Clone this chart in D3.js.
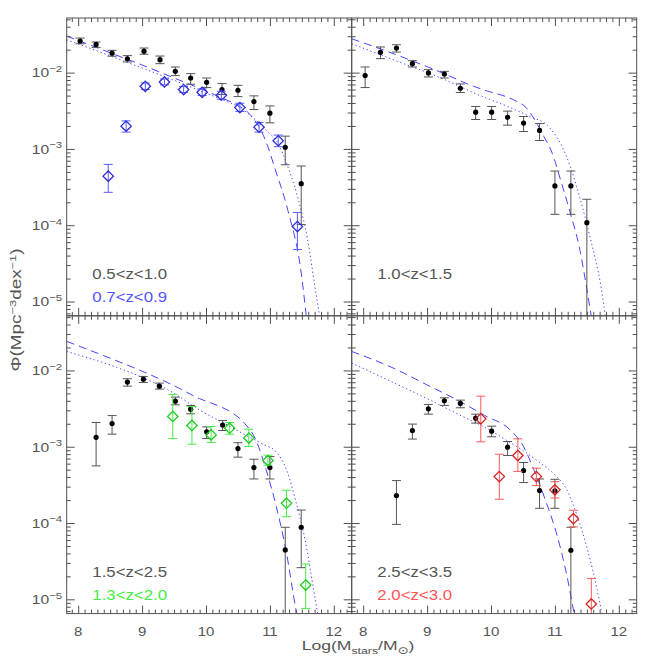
<!DOCTYPE html>
<html><head><meta charset="utf-8">
<script src="https://cdn.jsdelivr.net/npm/d3@7/dist/d3.min.js"></script>
<style>html,body{margin:0;padding:0;background:#fff}svg{display:block}</style>
</head><body>
<svg id="chart" width="668" height="668"></svg>
<script>
// ---------------- DATA ----------------
const xTickValues = [8, 9, 10, 11, 12];
const xTickLabels = ["8", "9", "10", "11", "12"];
const yTickValues = [1e-5, 1e-4, 1e-3, 1e-2];
const yTickExponents = ["−5", "−4", "−3", "−2"];
const labelsBlack = ["0.5<z<1.0", "1.0<z<1.5", "1.5<z<2.5", "2.5<z<3.5"];
const labelsColor = ["0.7<z<0.9", null, "1.3<z<2.0", "2.0<z<3.0"];

// Panel 1 (0.5<z<1.0) black points
const p1Mass = [8.03,8.28,8.53,8.77,9.03,9.28,9.52,9.76,10.01,10.25,10.50,10.75,11.00,11.24,11.49];
const p1Phi  = [0.0259,0.0234,0.0180,0.0152,0.0191,0.0148,0.0104,0.0085,0.00747,0.0060,0.00588,0.00417,0.00294,0.00105,0.00035];
const p1Hi   = [0.0284,0.0252,0.0196,0.0167,0.0210,0.0165,0.01186,0.0097,0.0085,0.00718,0.00682,0.00496,0.00366,0.00147,0.000597];
const p1Lo   = [0.0239,0.0214,0.0164,0.0138,0.0174,0.0131,0.00914,0.00704,0.00637,0.00516,0.00485,0.00328,0.0022,0.00062,0.000102];
// Panel 1 blue diamonds (0.7<z<0.9)
const p1bMass = [8.47,8.75,9.05,9.35,9.65,9.94,10.24,10.53,10.83,11.13,11.43];
const p1bPhi  = [0.00044,0.00199,0.00662,0.00755,0.0060,0.00553,0.00506,0.00348,0.00193,0.00128,0.000096];
const p1bHi   = [0.000627,0.00233,0.00733,0.00826,0.00656,0.00612,0.0057,0.00397,0.00222,0.00152,0.000147];
const p1bLo   = [0.00027,0.00166,0.0060,0.0069,0.00548,0.00501,0.00448,0.00309,0.00166,0.00107,0.000048];
// Panel 1 model curves
const p1DashMass = [7.82,8.5,9.0,9.5,10.0,10.3,10.5,10.65,10.76,10.86,10.97,11.07,11.28,11.49,11.57];
const p1DashPhi  = [0.0302,0.0182,0.01259,0.00851,0.00575,0.00447,0.00372,0.00305,0.0024,0.00176,0.00106,0.000583,0.000158,0.0000236,0.0000063];
const p1DotMass  = [7.82,8.5,9.0,9.5,9.94,10.3,10.53,10.75,10.94,11.13,11.30,11.46,11.59,11.72,11.79];
const p1DotPhi   = [0.0270,0.0166,0.01148,0.00794,0.00562,0.00427,0.00348,0.00251,0.00176,0.00117,0.000528,0.000195,0.0000646,0.0000129,0.0000056];

// Panel 2 (1.0<z<1.5) black points
const p2Mass = [8.03,8.27,8.52,8.77,9.02,9.27,9.52,9.76,10.01,10.26,10.51,10.76,11.00,11.25,11.50];
const p2Phi  = [0.00914,0.01845,0.0210,0.01312,0.0099,0.0096,0.00624,0.00303,0.00303,0.0026,0.00218,0.00175,0.000327,0.000327,0.000108];
const p2Hi   = [0.01186,0.0217,0.0232,0.01435,0.01094,0.0104,0.00711,0.0036,0.0036,0.00313,0.00266,0.00215,0.000513,0.000513,0.000219];
const p2Lo   = [0.00637,0.01525,0.0186,0.01186,0.00878,0.0085,0.00548,0.00243,0.00243,0.00205,0.00169,0.00129,0.000139,0.000139,0.0000001];
const p2DashMass = [7.82,8.5,9.2,9.73,9.94,10.25,10.41,10.55,10.62,10.83,10.96,11.09,11.24,11.38,11.51,11.58];
const p2DashPhi  = [0.0278,0.01738,0.01023,0.00661,0.00575,0.00479,0.00417,0.00347,0.00291,0.00144,0.000871,0.000389,0.000145,0.0000525,0.0000129,0.0000056];
const p2DotMass  = [7.82,8.5,9.2,9.83,10.25,10.62,10.88,11.09,11.24,11.40,11.56,11.72,11.80];
const p2DotPhi   = [0.02393,0.01445,0.00861,0.00501,0.00363,0.00263,0.00204,0.00117,0.000589,0.000214,0.0000646,0.0000158,0.0000056];

// Panel 3 (1.5<z<2.5) black points
const p3Mass = [8.28,8.53,8.77,9.02,9.27,9.52,9.76,10.01,10.26,10.50,10.75,11.00,11.24,11.49];
const p3Phi  = [0.00133,0.00201,0.00703,0.00769,0.00622,0.00396,0.00311,0.00157,0.00192,0.000946,0.000533,0.000533,0.0000444,0.000088];
const p3Hi   = [0.00208,0.00256,0.00778,0.00834,0.00682,0.00447,0.00347,0.00182,0.00221,0.00113,0.000686,0.000743,0.000088,0.000148];
const p3Lo   = [0.000561,0.00146,0.00622,0.00696,0.00569,0.00354,0.0027,0.00128,0.00163,0.00073,0.000378,0.000378,0.0000001,0.000026];
// Panel 3 green diamonds (1.3<z<2.0)
const p3gMass = [9.48,9.78,10.08,10.37,10.67,10.97,11.26,11.56];
const p3gPhi  = [0.00249,0.0019,0.00143,0.00175,0.0013,0.000659,0.000182,0.0000154];
const p3gHi   = [0.00484,0.00337,0.00184,0.00208,0.0017,0.000775,0.000269,0.000029];
const p3gLo   = [0.00128,0.00108,0.00114,0.00146,0.00101,0.000573,0.000121,0.0000076];
const p3DashMass = [7.82,8.5,9.0,9.5,9.9,10.21,10.42,10.6,10.78,10.94,11.10,11.25,11.41,11.45];
const p3DashPhi  = [0.02404,0.01445,0.00977,0.00631,0.00427,0.00339,0.00275,0.00204,0.00123,0.000501,0.000164,0.0000447,0.00000724,0.000005];
const p3DotMass  = [7.82,8.5,9.0,9.5,9.9,10.3,10.6,10.9,11.1,11.25,11.4,11.55,11.7,11.77];
const p3DotPhi   = [0.01774,0.01175,0.00813,0.00501,0.00302,0.002,0.00145,0.00107,0.000851,0.000525,0.0002,0.0000603,0.0000112,0.000005];

// Panel 4 (2.5<z<3.5) black points
const p4Mass = [8.52,8.77,9.02,9.27,9.52,9.76,10.01,10.26,10.51,10.76,11.00,11.25];
const p4Phi  = [0.000229,0.00163,0.00314,0.0040,0.00369,0.00237,0.0016,0.000986,0.000488,0.000266,0.000264,0.000044];
const p4Hi   = [0.00036,0.00198,0.00358,0.00438,0.00408,0.00267,0.00186,0.00117,0.000621,0.000378,0.000374,0.000088];
const p4Lo   = [0.000096,0.00126,0.00267,0.00348,0.00324,0.00204,0.00135,0.000767,0.000339,0.000156,0.000156,0.0000001];
// Panel 4 red diamonds (2.0<z<3.0)
const p4rMass = [9.84,10.13,10.42,10.71,11.00,11.29,11.57];
const p4rPhi  = [0.00232,0.000406,0.000767,0.000406,0.000272,0.000114,0.0000087];
const p4rHi   = [0.0046,0.000798,0.00127,0.000523,0.000349,0.000147,0.0000188];
const p4rLo   = [0.00116,0.000205,0.000473,0.00031,0.000213,0.000089,0.0000001];
const p4DashMass = [7.82,8.5,9.0,9.5,9.9,10.3,10.51,10.67,10.83,11.04,11.19,11.30,11.33];
const p4DashPhi  = [0.01774,0.01047,0.00646,0.00398,0.00257,0.00166,0.001,0.000501,0.000224,0.0000661,0.00002,0.0000066,0.000005];
const p4DotMass  = [7.82,8.5,9.0,9.5,10.0,10.25,10.5,10.75,11.0,11.19,11.35,11.51,11.66,11.76];
const p4DotPhi   = [0.01247,0.00676,0.00427,0.00263,0.00162,0.0012,0.000891,0.000631,0.000427,0.000269,0.000123,0.0000447,0.0000135,0.000005];

// ---------------- DRAWING ----------------
const FONT = "'Liberation Sans','DejaVu Sans',Arial,sans-serif";
const svg = d3.select("#chart");
const xDomain = [7.82, 12.28];
const yDomain = [6.5e-6, 0.052];
const cols = [[66.7, 351.7], [351.7, 636.7]];
const rows = [[18, 315.8], [315.8, 613.6]];
const AX = "#505050";
const TXT = "#555555";

const panels = [
  {c:0, r:0, black:[p1Mass,p1Phi,p1Lo,p1Hi], extra:[p1bMass,p1bPhi,p1bLo,p1bHi], ec:"#2e2ed6", eb:"#5a5aff", lc:"#5555ff",
   dash:[p1DashMass,p1DashPhi], dot:[p1DotMass,p1DotPhi]},
  {c:1, r:0, black:[p2Mass,p2Phi,p2Lo,p2Hi], extra:null,
   dash:[p2DashMass,p2DashPhi], dot:[p2DotMass,p2DotPhi]},
  {c:0, r:1, black:[p3Mass,p3Phi,p3Lo,p3Hi], extra:[p3gMass,p3gPhi,p3gLo,p3gHi], ec:"#22cc22", eb:"#44ee44", lc:"#44ee44",
   dash:[p3DashMass,p3DashPhi], dot:[p3DotMass,p3DotPhi]},
  {c:1, r:1, black:[p4Mass,p4Phi,p4Lo,p4Hi], extra:[p4rMass,p4rPhi,p4rLo,p4rHi], ec:"#d42424", eb:"#ff5a5a", lc:"#ff5555",
   dash:[p4DashMass,p4DashPhi], dot:[p4DotMass,p4DotPhi]}
];

const minorX = d3.range(79, 123).map(v => v / 10).filter(v => Math.abs(v - Math.round(v)) > 1e-6);
const minorY = [];
for (let e = -6; e <= -1; e++) for (let k = 2; k <= 9; k++) {
  const v = k * Math.pow(10, e);
  if (v > yDomain[0] && v < yDomain[1]) minorY.push(v);
}

function stretchedText(parent, x, y, sx, opts) {
  const g = parent.append("g").attr("transform", `translate(${x},${y}) scale(${sx},1)`);
  const t = g.append("text").attr("font-family", FONT).attr("fill", opts.fill || TXT)
    .attr("font-size", opts.size || 14).attr("text-anchor", opts.anchor || "start");
  return t;
}

panels.forEach((p, i) => {
  const [x0, x1] = cols[p.c], [y0, y1] = rows[p.r];
  const x = d3.scaleLinear().domain(xDomain).range([x0, x1]);
  const y = d3.scaleLog().domain(yDomain).range([y1, y0]);
  const g = svg.append("g");
  const clipId = "clip" + i;
  svg.append("defs").append("clipPath").attr("id", clipId)
    .append("rect").attr("x", x0).attr("y", y0).attr("width", x1 - x0).attr("height", y1 - y0);
  const inner = g.append("g").attr("clip-path", `url(#${clipId})`);

  const line = d3.line().x(d => x(d[0])).y(d => y(d[1])).curve(d3.curveMonotoneX);
  inner.append("path").datum(d3.zip(p.dash[0], p.dash[1])).attr("d", line)
    .attr("fill", "none").attr("stroke", "#4646ff").attr("stroke-width", 1).attr("stroke-dasharray", "8,5");
  inner.append("path").datum(d3.zip(p.dot[0], p.dot[1])).attr("d", line)
    .attr("fill", "none").attr("stroke", "#4646ff").attr("stroke-width", 1).attr("stroke-dasharray", "1.3,2.7");

  function errorBars(set, color) {
    const data = d3.zip(set[0], set[1], set[2], set[3]);
    const eg = inner.append("g").attr("stroke", color).attr("stroke-width", 1).attr("fill", "none");
    data.forEach(d => {
      const cx = x(d[0]);
      eg.append("line").attr("x1", cx).attr("x2", cx).attr("y1", y(d[2])).attr("y2", y(d[3]));
      eg.append("line").attr("x1", cx - 4.5).attr("x2", cx + 4.5).attr("y1", y(d[3])).attr("y2", y(d[3]));
      eg.append("line").attr("x1", cx - 4.5).attr("x2", cx + 4.5).attr("y1", y(d[2])).attr("y2", y(d[2]));
    });
    return data;
  }

  const bd = errorBars(p.black, "#555555");
  inner.append("g").selectAll("circle").data(bd).join("circle")
    .attr("cx", d => x(d[0])).attr("cy", d => y(d[1])).attr("r", 2.6).attr("fill", "#000");

  if (p.extra) {
    const ed = errorBars(p.extra, p.eb);
    inner.append("g").selectAll("path").data(ed).join("path")
      .attr("transform", d => `translate(${x(d[0])},${y(d[1])})`)
      .attr("d", "M0,-5.2L5.2,0L0,5.2L-5.2,0Z")
      .attr("fill", "none").attr("stroke", p.ec).attr("stroke-width", 1.3);
  }

  // axes ticks (inward)
  const styleAxis = a => { a.select(".domain").remove(); a.selectAll(".tick line").attr("stroke", AX); };
  g.append("g").attr("transform", `translate(0,${y1})`).call(d3.axisBottom(x).tickValues(minorX).tickSize(-4).tickFormat("")).call(styleAxis);
  g.append("g").attr("transform", `translate(0,${y1})`).call(d3.axisBottom(x).tickValues(xTickValues).tickSize(-8).tickFormat("")).call(styleAxis);
  g.append("g").attr("transform", `translate(0,${y0})`).call(d3.axisTop(x).tickValues(minorX).tickSize(-4).tickFormat("")).call(styleAxis);
  g.append("g").attr("transform", `translate(0,${y0})`).call(d3.axisTop(x).tickValues(xTickValues).tickSize(-8).tickFormat("")).call(styleAxis);
  g.append("g").attr("transform", `translate(${x0},0)`).call(d3.axisLeft(y).tickValues(minorY).tickSize(-4).tickFormat("")).call(styleAxis);
  g.append("g").attr("transform", `translate(${x0},0)`).call(d3.axisLeft(y).tickValues(yTickValues).tickSize(-8).tickFormat("")).call(styleAxis);
  g.append("g").attr("transform", `translate(${x1},0)`).call(d3.axisRight(y).tickValues(minorY).tickSize(-4).tickFormat("")).call(styleAxis);
  g.append("g").attr("transform", `translate(${x1},0)`).call(d3.axisRight(y).tickValues(yTickValues).tickSize(-8).tickFormat("")).call(styleAxis);

  g.append("rect").attr("x", x0).attr("y", y0).attr("width", x1 - x0).attr("height", y1 - y0)
    .attr("fill", "none").attr("stroke", AX).attr("stroke-width", 1);

  // tick labels
  if (p.c === 0) {
    yTickValues.forEach((v, k) => {
      const t = stretchedText(g, x0 - 4.5, y(v) + 4.8, 1.2, {anchor: "end", size: 13});
      t.append("tspan").text("10");
      t.append("tspan").attr("dy", -5.5).attr("font-size", 9.5).text(yTickExponents[k]);
    });
  }
  if (p.r === 1) {
    xTickValues.forEach((v, k) => {
      stretchedText(g, x(v), 635.5, 1.2, {anchor: "middle", size: 12.5}).text(xTickLabels[k]);
    });
  }

  // panel labels
  stretchedText(g, x0 + 25.6, y1 - 36.8, 1.2, {size: 14}).text(labelsBlack[i]);
  if (labelsColor[i]) stretchedText(g, x0 + 25.6, y1 - 13.8, 1.2, {size: 14, fill: p.lc}).text(labelsColor[i]);
});

// axis titles
const xt = stretchedText(svg, 358, 650, 1.3, {anchor: "middle", size: 13.5});
xt.append("tspan").text("Log(M");
xt.append("tspan").attr("dy", 4).attr("font-size", 9.5).text("stars");
xt.append("tspan").attr("dy", -4).text("/M");
xt.append("tspan").attr("dy", 4).attr("font-size", 10).text("⊙");
xt.append("tspan").attr("dy", -4).text(")");

const ytg = svg.append("g").attr("transform", "translate(21,310) rotate(-90) scale(1.35,1)");
const yt = ytg.append("text").attr("font-family", FONT).attr("fill", TXT).attr("font-size", 14).attr("text-anchor", "middle");
yt.append("tspan").text("Φ(Mpc");
yt.append("tspan").attr("dy", -5.5).attr("font-size", 9.5).text("−3");
yt.append("tspan").attr("dy", 5.5).text("dex");
yt.append("tspan").attr("dy", -5.5).attr("font-size", 9.5).text("−1");
yt.append("tspan").attr("dy", 5.5).text(")");
</script>
</body></html>
